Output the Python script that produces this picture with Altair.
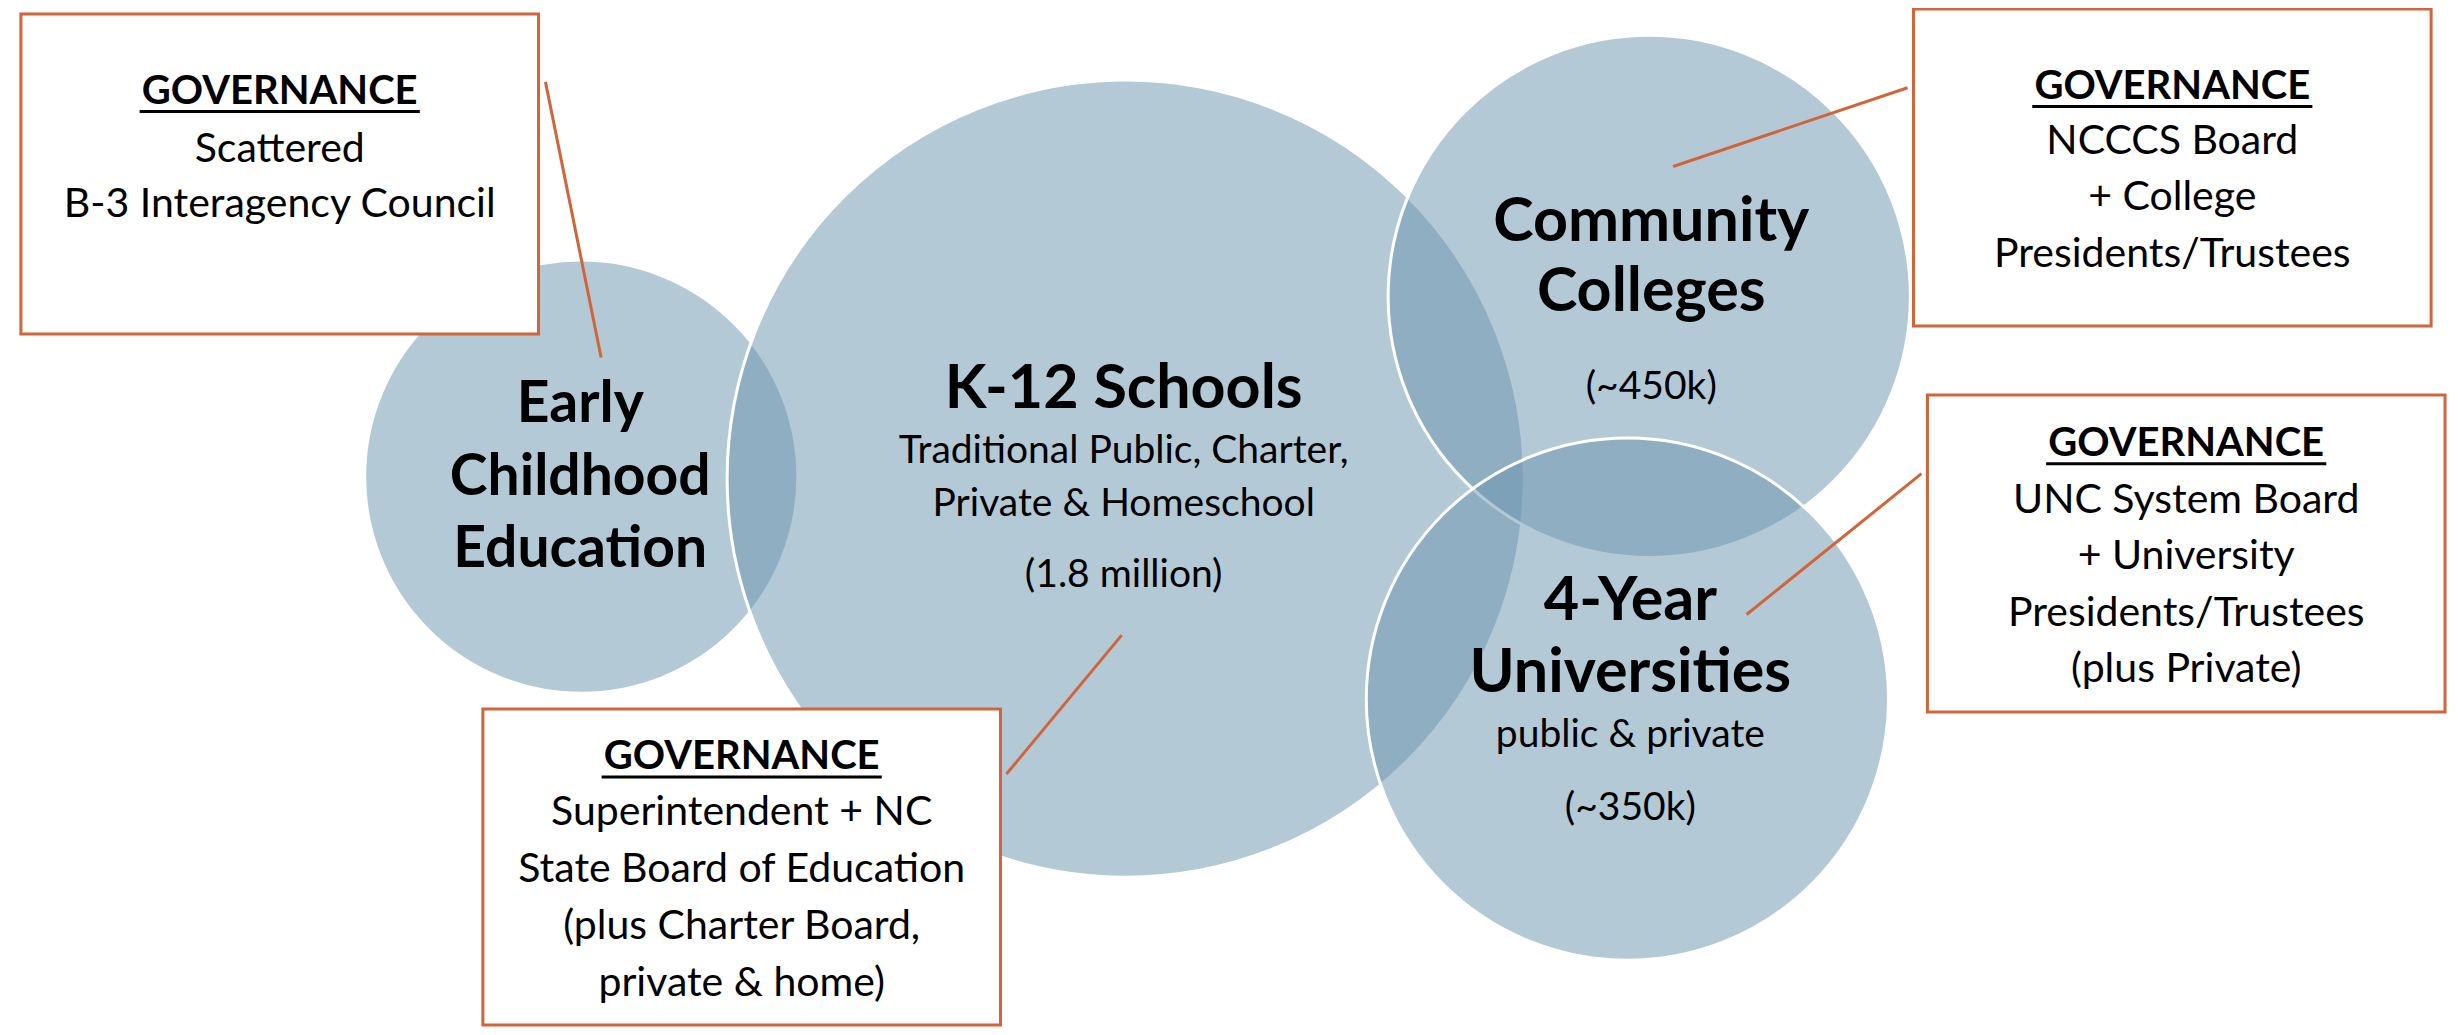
import altair as alt
import pandas as pd

# ---------------- data (pixel space of 2458x1035) ----------------
SRC_W, SRC_H = 2458, 1035

circle_names = ["Early Childhood Education", "K-12 Schools", "Community Colleges", "4-Year Universities"]
circle_cx = [577, 1125, 1652, 1630]
circle_cy = [476, 478, 293, 702]
circle_r = [219, 403, 264, 264]

title_text = ["Early", "Childhood", "Education", "K-12 Schools", "Community", "Colleges", "4-Year", "Universities"]
title_group = ["ec", "ec", "ec", "k12", "cc", "cc", "uni", "uni"]
title_x = [576, 576, 576, 1123, 1654, 1654, 1633, 1633]
title_y = [421, 495, 568, 406, 237, 308, 622, 695]

sub_text = ["Traditional Public, Charter,", "Private & Homeschool", "(1.8 million)", "(~450k)", "public & private", "(~350k)"]
sub_x = [1123, 1123, 1123, 1654, 1633, 1633]
sub_y = [462, 516, 588, 397, 751, 825]

box_x1 = [13, 478, 1918, 1932]
box_x2 = [534, 999, 2439, 2453]
box_y1 = [6, 712, 1, 393]
box_y2 = [331, 1033, 323, 715]
box_header = ["GOVERNANCE", "GOVERNANCE", "GOVERNANCE", "GOVERNANCE"]
box_header_y = [97, 773, 92, 455]
box_lines = [
    ["Scattered", "B-3 Interagency Council"],
    ["Superintendent + NC", "State Board of Education", "(plus Charter Board,", "private & home)"],
    ["NCCCS Board", "+ College", "Presidents/Trustees"],
    ["UNC System Board", "+ University", "Presidents/Trustees", "(plus Private)"],
]
box_line_y = [[156, 212], [830, 888, 946, 1004], [148, 205, 263], [513, 570, 628, 685]]

link_x1 = [541, 1005, 1676, 1750]
link_y1 = [75, 778, 161, 616]
link_x2 = [597, 1121, 1912, 1926]
link_y2 = [355, 637, 81, 473]

# ---------------- layout / style ----------------
W, H = 2442, 1019
K = (W / SRC_W + H / SRC_H) / 2
FONT = "Lato"
ORANGE = "#D1643B"
FILL = "#6B96AF"
UNDERLINE_HALF = 141

xs = alt.Scale(domain=[0, SRC_W], range=[0, W], nice=False, zero=False)
ys = alt.Scale(domain=[0, SRC_H], range=[0, H], nice=False, zero=False)

circles = pd.DataFrame({"name": circle_names, "x": circle_cx, "y": circle_cy, "r": circle_r})
circles["idx"] = range(len(circles))
titles = pd.DataFrame({"text": title_text, "group": title_group, "x": title_x, "y": title_y})
subs = pd.DataFrame({"text": sub_text, "x": sub_x, "y": sub_y})
boxes = pd.DataFrame({"x": box_x1, "x2": box_x2, "y": box_y1, "y2": box_y2,
                      "header": box_header, "hy": box_header_y})
boxes["cx"] = (boxes["x"] + boxes["x2"]) / 2
boxes["ux1"] = boxes["cx"] - UNDERLINE_HALF
boxes["ux2"] = boxes["cx"] + UNDERLINE_HALF
boxes["uy"] = boxes["hy"] + 8

rows = []
for i, (lines, ys_) in enumerate(zip(box_lines, box_line_y)):
    for t, yy in zip(lines, ys_):
        rows.append({"text": t, "x": boxes["cx"][i], "y": yy})
box_text = pd.DataFrame(rows)
links = pd.DataFrame({"x": link_x1, "y": link_y1, "x2": link_x2, "y2": link_y2})

X = lambda f: alt.X(f, scale=xs, axis=None)
Y = lambda f: alt.Y(f, scale=ys, axis=None)

# Vega circle symbol: radius = sqrt(size)/2  ->  size = (2r)^2
circle_layer = alt.Chart(circles).transform_calculate(
    size=f"pow(2*datum.r*{K},2)"
).mark_point(
    shape="circle", filled=True, fill=FILL, fillOpacity=0.51, opacity=1,
    stroke="white", strokeWidth=3, strokeOpacity=1
).encode(x=X("x:Q"), y=Y("y:Q"), size=alt.Size("size:Q", scale=None),
         order=alt.Order("idx:Q"))

title_layer = alt.Chart(titles).mark_text(
    font=FONT, fontWeight="bold", align="center", baseline="alphabetic", color="black"
).encode(x=X("x:Q"), y=Y("y:Q"), text="text:N",
         size=alt.condition(alt.datum.group == "ec", alt.value(57), alt.value(61)))

sub_layer = alt.Chart(subs).mark_text(
    font=FONT, fontSize=39, align="center", baseline="alphabetic", color="black"
).encode(x=X("x:Q"), y=Y("y:Q"), text="text:N")

link_layer = alt.Chart(links).mark_rule(color=ORANGE, strokeWidth=3).encode(
    x=X("x:Q"), y=Y("y:Q"), x2="x2:Q", y2="y2:Q")

box_layer = alt.Chart(boxes).mark_rect(fill="white", stroke=ORANGE, strokeWidth=3).encode(
    x=X("x:Q"), x2="x2:Q", y=Y("y:Q"), y2="y2:Q")

header_layer = alt.Chart(boxes).mark_text(
    font=FONT, fontSize=40, fontWeight="bold", align="center", baseline="alphabetic", color="black"
).encode(x=X("cx:Q"), y=Y("hy:Q"), text="header:N")

underline_layer = alt.Chart(boxes).mark_rule(color="black", strokeWidth=3).encode(
    x=X("ux1:Q"), x2="ux2:Q", y=Y("uy:Q"))

box_text_layer = alt.Chart(box_text).mark_text(
    font=FONT, fontSize=41, align="center", baseline="alphabetic", color="black"
).encode(x=X("x:Q"), y=Y("y:Q"), text="text:N")

chart = alt.layer(
    circle_layer, title_layer, sub_layer, link_layer, box_layer,
    header_layer, underline_layer, box_text_layer
).properties(
    width=W, height=H, padding=0, autosize=alt.AutoSizeParams(type="none"),
    background="white"
).configure_view(stroke=None)

chart.save("out.html", embed_options={"renderer": "svg", "actions": False})
